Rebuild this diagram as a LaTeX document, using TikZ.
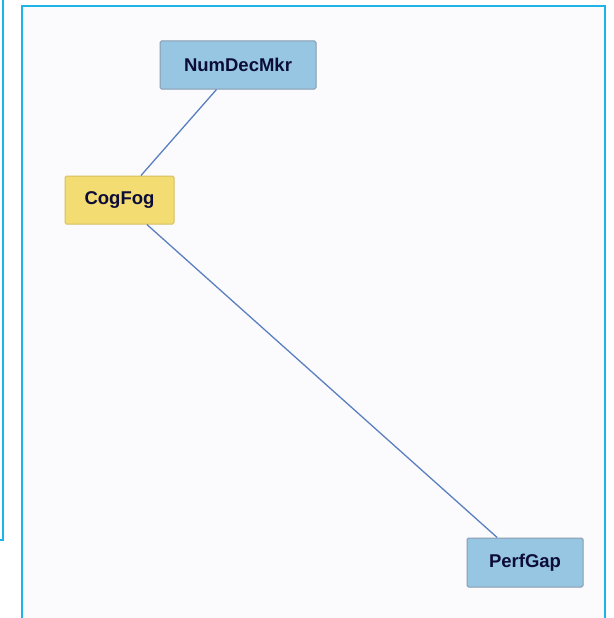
\documentclass[tikz,border=0pt]{standalone}
\usepackage{fontspec}
\setmainfont{Liberation Sans}
\definecolor{frame}{HTML}{1EB4E8}
\definecolor{canvas}{HTML}{FBFBFD}
\definecolor{bluefill}{HTML}{96C6E2}
\definecolor{blueedge}{HTML}{8A9AAE}
\definecolor{yellowfill}{HTML}{F3DC72}
\definecolor{yellowedge}{HTML}{D6BE5E}
\definecolor{labeltext}{HTML}{0C0C38}
\definecolor{link}{HTML}{5A80C0}
\tikzset{
  varbox/.style={rectangle, rounded corners=1.5pt, line width=1pt,
    font=\fontsize{18.5}{20}\selectfont\bfseries, text=labeltext,
    inner sep=0pt},
  bluebox/.style={varbox, fill=bluefill, draw=blueedge},
  yellowbox/.style={varbox, fill=yellowfill, draw=yellowedge},
  linkline/.style={draw=link, line width=1.3pt}
}
\begin{document}
\begin{tikzpicture}[x=1pt, y=-1pt]
  \useasboundingbox (0,0) rectangle (613,618);
  \fill[white] (0,0) rectangle (613,618);
  % neighbouring panel on the left
  \draw[frame, line width=2.4pt] (3,-2) -- (3,540) -- (-2,540);
  % main panel
  \fill[canvas] (22,6) rectangle (605,620);
  \draw[frame, line width=2.4pt] (22,620) -- (22,6) -- (605,6) -- (605,620);
  % variables
  \node[bluebox, minimum width=156pt, minimum height=48pt] (num) at (238,65) {NumDecMkr};
  \node[yellowbox, minimum width=109pt, minimum height=48pt] (cog) at (119.5,200) {CogFog};
  \node[bluebox, minimum width=116pt, minimum height=49pt] (perf) at (525,562.5) {PerfGap};
  % links
  \path[linkline] (num) -- (cog);
  \path[linkline] (cog) -- (perf);
\end{tikzpicture}
\end{document}
